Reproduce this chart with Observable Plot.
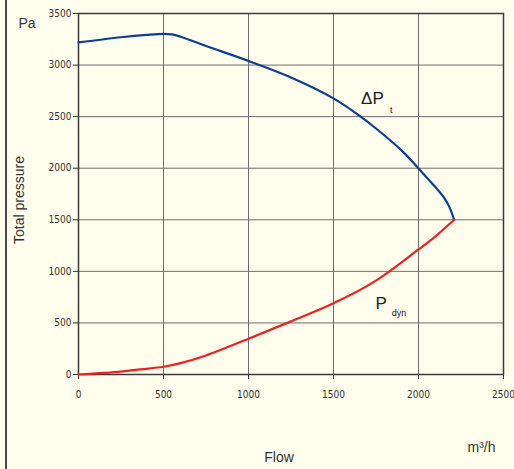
<!DOCTYPE html>
<html>
<head>
<meta charset="utf-8">
<script src="https://cdn.jsdelivr.net/npm/d3@7"></script>
<script src="https://cdn.jsdelivr.net/npm/@observablehq/plot@0.6"></script>
<style>
  html, body { margin: 0; padding: 0; background: #fffeec; }
  #wrap { position: relative; width: 514px; height: 469px; overflow: hidden; }
  #edge { position: absolute; left: 5px; top: 0; width: 0; height: 469px; border-left: 2px solid #4a4a4a; }
</style>
</head>
<body>
<div id="wrap"><div id="edge"></div></div>
<script>
// Flow (m³/h) and pressure (Pa) values
const dpFlow = [0, 250, 400, 500, 550, 600, 750, 1000, 1250, 1500, 1650, 1750, 1900, 2000, 2100, 2150, 2180, 2210];
const dpPressure = [3220, 3270, 3293, 3303, 3297, 3275, 3185, 3040, 2880, 2677, 2512, 2385, 2173, 1998, 1815, 1715, 1630, 1500];
const dynFlow = [0, 250, 365, 500, 600, 750, 1000, 1250, 1500, 1750, 2000, 2100, 2210];
const dynPressure = [0, 28, 50, 75, 110, 185, 346, 515, 690, 910, 1212, 1340, 1500];
const xTicks = [0, 500, 1000, 1500, 2000, 2500];
const yTicks = [0, 500, 1000, 1500, 2000, 2500, 3000, 3500];

const dpData = dpFlow.map((f, i) => ({flow: f, p: dpPressure[i]}));
const dynData = dynFlow.map((f, i) => ({flow: f, p: dynPressure[i]}));

const labelFont = "Liberation Sans, Arial, sans-serif";

const chart = Plot.plot({
  width: 514,
  height: 469,
  marginLeft: 78,
  marginRight: 11,
  marginTop: 13,
  marginBottom: 95,
  style: {background: "transparent", color: "#333", fontFamily: "'Liberation Sans Narrow', 'Arial Narrow', 'DejaVu Sans Condensed', sans-serif", fontSize: "10px"},
  x: {domain: [0, 2500]},
  y: {domain: [0, 3500]},
  marks: [
    Plot.gridX(xTicks, {stroke: "#6e6e6e", strokeOpacity: 1, strokeWidth: 1}),
    Plot.gridY(yTicks, {stroke: "#6e6e6e", strokeOpacity: 1, strokeWidth: 1}),
    Plot.frame({stroke: "#3a3a3a", strokeWidth: 1.5}),
    Plot.axisX({ticks: xTicks, tickSize: 5, tickPadding: 11, label: null, tickFormat: d => String(d)}),
    Plot.axisY({ticks: yTicks, tickSize: 5, tickPadding: 2, label: null, tickFormat: d => String(d)}),
    Plot.line(dpData, {x: "flow", y: "p", stroke: "#0b3d9c", strokeWidth: 2.2, curve: "catmull-rom"}),
    Plot.line(dynData, {x: "flow", y: "p", stroke: "#ee2027", strokeWidth: 2.2, curve: "catmull-rom"}),
    // curve labels
    Plot.text(["ΔP"], {x: 1729, y: 2677, fontSize: 17, fontFamily: labelFont, fill: "#222"}),
    Plot.text(["t"], {x: 1840, y: 2560, fontSize: 9, fontFamily: labelFont, fill: "#222"}),
    Plot.text(["P"], {x: 1780, y: 690, fontSize: 17, fontFamily: labelFont, fill: "#222"}),
    Plot.text(["dyn"], {x: 1885, y: 600, fontSize: 9, fontFamily: labelFont, fill: "#222"}),
    // outer annotations
    Plot.text(["Pa"], {frameAnchor: "top-left", dx: -60, dy: 5, fontSize: 14, fontFamily: labelFont, fill: "#333"}),
    Plot.text(["Total pressure"], {frameAnchor: "left", textAnchor: "middle", dx: -59, dy: 6, rotate: -90, fontSize: 14, fontFamily: labelFont, fill: "#333"}),
    Plot.text(["Flow"], {frameAnchor: "bottom", lineAnchor: "middle", dx: -12, dy: 83, fontSize: 14, fontFamily: labelFont, fill: "#333"}),
    Plot.text(["m³/h"], {frameAnchor: "bottom-right", textAnchor: "end", lineAnchor: "middle", dx: -8, dy: 73, fontSize: 14, fontFamily: labelFont, fill: "#333"})
  ]
});
document.getElementById("wrap").appendChild(chart);
chart.style.position = "absolute";
chart.style.left = "0";
chart.style.top = "0";
</script>
</body>
</html>
